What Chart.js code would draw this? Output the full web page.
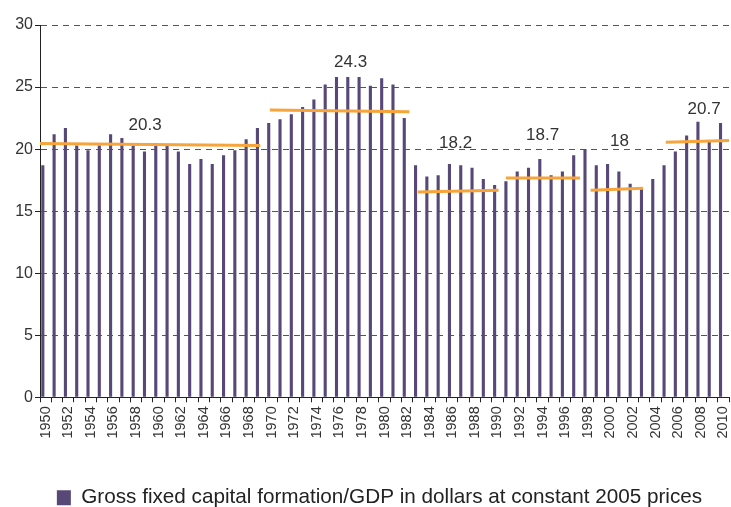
<!DOCTYPE html>
<html lang="en">
<head>
    <meta charset="UTF-8">
    <title>Gross fixed capital formation</title>
    <script src="https://cdn.jsdelivr.net/npm/chart.js@4.4.0/dist/chart.umd.min.js"></script>
    <style>
        body { margin: 0; background: #fff; }
    </style>
</head>
<body>

<canvas id="gfcf-chart" width="731" height="507"></canvas>

<script>
    const years = ['1950','1951','1952','1953','1954','1955','1956','1957','1958','1959',
        '1960','1961','1962','1963','1964','1965','1966','1967','1968','1969',
        '1970','1971','1972','1973','1974','1975','1976','1977','1978','1979',
        '1980','1981','1982','1983','1984','1985','1986','1987','1988','1989',
        '1990','1991','1992','1993','1994','1995','1996','1997','1998','1999',
        '2000','2001','2002','2003','2004','2005','2006','2007','2008','2009','2010'];

    const gfcfShare = [18.7, 21.2, 21.7, 20.3, 19.9, 20.3, 21.2, 20.9, 20.3, 19.8,
        20.5, 20.3, 19.8, 18.8, 19.2, 18.8, 19.5, 19.9, 20.8, 21.7,
        22.1, 22.4, 22.8, 23.4, 24.0, 25.2, 25.8, 25.8, 25.8, 25.1,
        25.7, 25.2, 22.5, 18.7, 17.8, 17.9, 18.8, 18.7, 18.5, 17.6,
        17.1, 17.4, 18.2, 18.5, 19.2, 17.9, 18.2, 19.5, 20.0, 18.7,
        18.8, 18.2, 17.2, 16.8, 17.6, 18.7, 19.8, 21.1, 22.2, 20.6, 22.1];

    // period average lines: [start year, end year], [value at start, value at end]
    const periodSpans = [[1949.5, 1969.0], [1969.85, 1982.2], [1982.95, 1990.1],
        [1990.75, 1997.3], [1998.25, 2002.9], [2004.9, 2010.5]];
    const periodLevels = [[20.45, 20.3], [23.15, 23.0], [16.55, 16.68],
        [17.67, 17.67], [16.68, 16.84], [20.55, 20.7]];

    // period average labels and where they sit (year, value)
    const periodLabels = ['20.3', '24.3', '18.2', '18.7', '18', '20.7'];
    const labelYears = [1958.8, 1977, 1986.3, 1994, 2000.8, 2008.3];
    const labelLevels = [21.9, 27.0, 20.5, 21.1, 20.6, 23.2];

    const yTicks = [0, 5, 10, 15, 20, 25, 30];

    Chart.defaults.font.family = '"Liberation Sans", Arial, sans-serif';

    const barColor = '#574878';
    const avgColor = '#f7a43a';

    const datasets = [{
        type: 'bar',
        label: 'Gross fixed capital formation/GDP in dollars at constant 2005 prices',
        data: gfcfShare,
        backgroundColor: barColor,
        borderWidth: 0,
        barPercentage: 0.55,
        categoryPercentage: 1.0,
        order: 2
    }];

    periodSpans.forEach((span, i) => {
        datasets.push({
            type: 'line',
            label: 'avg' + i,
            xAxisID: 'xl',
            data: [{x: span[0], y: periodLevels[i][0]}, {x: span[1], y: periodLevels[i][1]}],
            borderColor: avgColor,
            borderWidth: 3,
            pointRadius: 0,
            fill: false,
            order: 1
        });
    });

    const periodText = {
        id: 'periodText',
        afterDatasetsDraw(chart) {
            const ctx = chart.ctx;
            const xs = chart.scales.xl;
            const ys = chart.scales.y;
            ctx.save();
            ctx.font = '17px "Liberation Sans", Arial, sans-serif';
            ctx.fillStyle = '#333';
            ctx.textAlign = 'center';
            ctx.textBaseline = 'middle';
            periodLabels.forEach((txt, i) => {
                ctx.fillText(txt, xs.getPixelForValue(labelYears[i]), ys.getPixelForValue(labelLevels[i]));
            });
            ctx.restore();
        }
    };

    // the legend in the original sits a little right of centre
    const nudgeLegend = {
        id: 'nudgeLegend',
        afterLayout(chart) {
            chart.legend.left += 15;
            chart.legend.right += 15;
        }
    };

    new Chart('gfcf-chart', {
        type: 'bar',
        data: {labels: years, datasets: datasets},
        plugins: [periodText, nudgeLegend],
        options: {
            responsive: false,
            animation: false,
            layout: {padding: {top: 25, right: 2, left: 0, bottom: -11}},
            plugins: {
                tooltip: {enabled: false},
                legend: {
                    position: 'bottom',
                    labels: {
                        filter: item => item.datasetIndex === 0,
                        boxWidth: 14,
                        boxHeight: 15,
                        padding: 0,
                        color: '#222',
                        font: {size: 20.7}
                    }
                }
            },
            scales: {
                x: {
                    type: 'category',
                    offset: true,
                    grid: {
                        offset: true,
                        drawOnChartArea: false,
                        drawTicks: true,
                        tickLength: 5,
                        color: '#222'
                    },
                    border: {display: true, color: '#222', width: 1},
                    ticks: {
                        autoSkip: false,
                        minRotation: 90,
                        maxRotation: 90,
                        padding: 4,
                        color: '#333',
                        font: {size: 14.5},
                        callback: function (v, i) {
                            return i % 2 === 0 ? years[i] : '';
                        }
                    },
                    afterFit: scale => {
                        scale.height = 90;
                        scale.paddingLeft = 0;
                        scale.paddingRight = 0;
                    }
                },
                xl: {
                    type: 'linear',
                    display: false,
                    offset: false,
                    min: 1949.5,
                    max: 2010.5
                },
                y: {
                    min: 0,
                    max: 30,
                    afterBuildTicks: scale => {
                        scale.ticks = yTicks.map(v => ({value: v}));
                    },
                    grid: {
                        color: '#555',
                        lineWidth: 1,
                        tickLength: 5,
                        tickColor: '#222',
                        tickBorderDash: []
                    },
                    border: {display: true, color: '#222', width: 1, dash: [6, 5]},
                    ticks: {
                        padding: 2,
                        color: '#333',
                        font: {size: 16}
                    },
                    afterFit: scale => { scale.width = 40; }
                }
            }
        }
    });
</script>

</body>
</html>
